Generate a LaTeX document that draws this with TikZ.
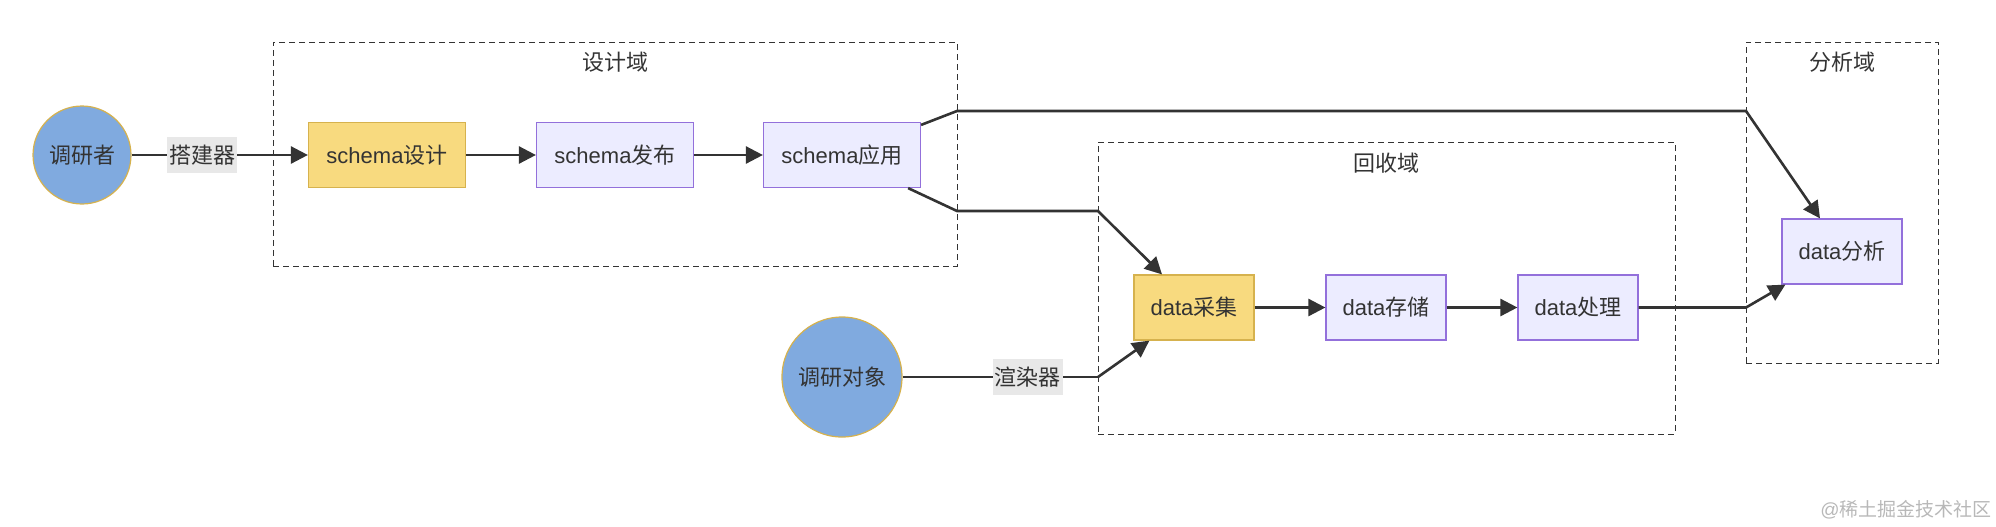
\documentclass[tikz,border=0pt]{standalone}
\usepackage{fontspec}
\setmainfont{Liberation Sans}
\newfontfamily\cjk{Noto Sans CJK SC}
\usetikzlibrary{arrows.meta,positioning}
\definecolor{lineclr}{HTML}{333333}
\definecolor{yelfill}{HTML}{F8DA7F}
\definecolor{yeldraw}{HTML}{D6B24E}
\definecolor{lavfill}{HTML}{ECECFF}
\definecolor{lavdraw}{HTML}{9370DB}
\definecolor{bluefill}{HTML}{80AADF}
\definecolor{labelbg}{HTML}{E8E8E8}
\tikzset{
  actor/.style={circle, draw=yeldraw, fill=bluefill, line width=0.6pt, inner sep=0pt, text=lineclr},
  keybox/.style={rectangle, draw=yeldraw, fill=yelfill, line width=0.6pt, minimum height=32.5pt, inner sep=0pt, text=lineclr},
  stepbox/.style={rectangle, draw=lavdraw, fill=lavfill, line width=0.6pt, minimum height=32.5pt, inner sep=0pt, text=lineclr},
  domainbox/.style={rectangle, draw=lineclr, dash pattern=on 3pt off 2pt, line width=0.5pt, inner sep=0pt},
  domainlabel/.style={inner sep=0pt, text=lineclr},
  flow/.style={draw=lineclr, line width=1.3pt, -{Triangle[length=8.5pt,width=8.5pt]}},
  plainline/.style={draw=lineclr, line width=1.3pt},
  edgelabel/.style={fill=labelbg, inner xsep=1pt, inner ysep=0pt, minimum height=18pt, text=lineclr}
}
\begin{document}
\begin{tikzpicture}[x=0.5pt, y=-0.5pt, font=\fontsize{11pt}{13pt}\selectfont]
  \useasboundingbox (0,0) rectangle (1996,526);
  \node[domainbox, minimum width=342pt, minimum height=112pt] (design) at (615,154) {};
  \node[domainbox, minimum width=288.5pt, minimum height=146pt] (collect) at (1386.5,288) {};
  \node[domainbox, minimum width=96pt, minimum height=160.5pt] (analyse) at (1842,202.5) {};
  \node[domainlabel] (designlbl) at (615,62) {\cjk 设计域};
  \node[domainlabel] (collectlbl) at (1386,163) {\cjk 回收域};
  \node[domainlabel] (analyselbl) at (1842,62) {\cjk 分析域};

  \node[actor, minimum size=49pt] (res) at (82,155) {\cjk 调研者};
  \node[keybox, minimum width=78.5pt] (sd) at (387,155) {schema{\cjk 设计}};
  \node[stepbox, minimum width=78.5pt] (sp) at (615,155) {schema{\cjk 发布}};
  \node[stepbox, minimum width=78.5pt] (sa) at (842,155) {schema{\cjk 应用}};
  \node[actor, minimum size=60pt] (obj) at (842,377) {\cjk 调研对象};
  \node[keybox, minimum width=60pt] (col) at (1194,307.5) {data{\cjk 采集}};
  \node[stepbox, minimum width=60pt] (sto) at (1386,307.5) {data{\cjk 存储}};
  \node[stepbox, minimum width=60pt] (pro) at (1578,307.5) {data{\cjk 处理}};
  \node[stepbox, minimum width=60pt] (ana) at (1842,251.5) {data{\cjk 分析}};

  \coordinate (t1) at (957,111);
  \coordinate (t2) at (1746,111);
  \coordinate (b1) at (957,211);
  \coordinate (b2) at (1098,211);
  \coordinate (r1) at (1098,377);
  \coordinate (p1) at (1746,307.5);

  \draw[flow] (res) -- node[edgelabel, pos=0.4] {\cjk 搭建器} (sd);
  \draw[flow] (sd) -- (sp);
  \draw[flow] (sp) -- (sa);
  \draw[flow] ([yshift=-1.5pt]sa.north east) -- (t1) -- (t2) -- ([xshift=-11pt]ana.north);
  \draw[flow] ([xshift=-6.5pt]sa.south east) -- (b1) -- (b2) -- ([xshift=-16pt]col.north);
  \draw[plainline] (obj) -- node[edgelabel, pos=0.64] {\cjk 渲染器} (r1);
  \draw[flow] (r1) -- ([xshift=8pt]col.south west);
  \draw[flow] (col) -- (sto);
  \draw[flow] (sto) -- (pro);
  \draw[flow] (pro) -- (p1) -- ([xshift=2pt]ana.south west);

  \node[text=black!28, font=\fontsize{9.5pt}{12pt}\selectfont] (mark) at (1906,510) {@{\cjk 稀土掘金技术社区}};
\end{tikzpicture}
\end{document}
